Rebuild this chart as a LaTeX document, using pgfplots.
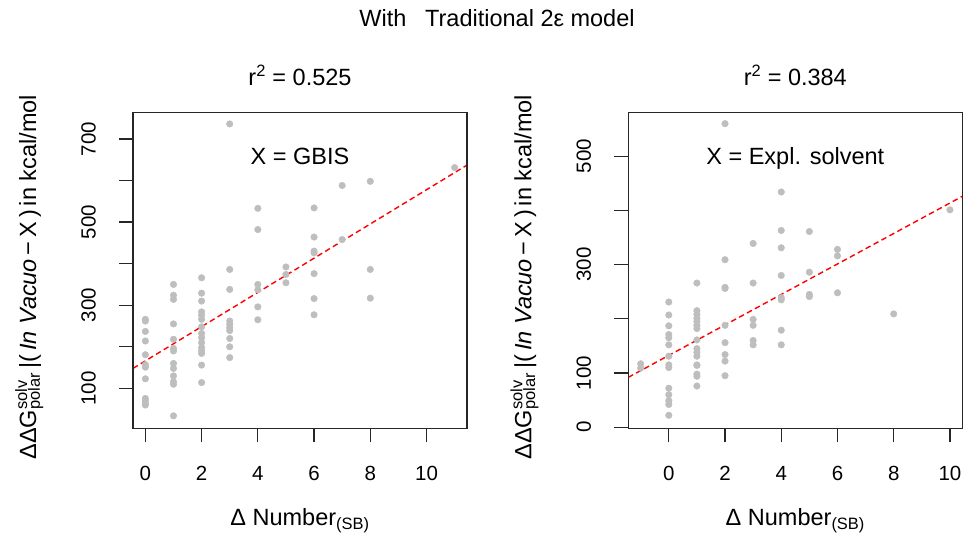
\documentclass[border=0pt]{standalone}
\usepackage{pgfplots}
\pgfplotsset{compat=1.18}
\usepackage{fontspec}
\setmainfont{Liberation Sans}
\definecolor{ptgray}{HTML}{BEBEBE}
\definecolor{fitred}{HTML}{FF0000}
\definecolor{frame}{HTML}{262626}
\newcommand{\ylab}{ΔΔG\rlap{\textsuperscript{solv}}\textsubscript{polar}\,|(\,\textit{In Vacuo}\,−\,X\,)\,in kcal/mol}
\pgfplotsset{
  myax/.style={
    scale only axis, width=334pt, height=316pt, anchor=south west,
    axis line style={line width=1.3pt, frame},
    every tick/.style={line width=1.3pt, frame},
    tick align=outside, major tick length=14pt,
    xtick pos=left, ytick pos=left,
    tick label style={font=\fontsize{20.5}{24}\selectfont, inner sep=0pt},
    label style={font=\fontsize{23.5}{28}\selectfont},
    title style={font=\fontsize{23.5}{28}\selectfont, at={(axis description cs:0.5,1.067)}, anchor=base},
    xticklabel style={anchor=north},
    yticklabel style={rotate=90, anchor=south},
    xticklabel shift=23.5pt,
    yticklabel shift=23pt,
    xlabel={Δ Number\textsubscript{(SB)}},
    xlabel style={at={(axis description cs:0.5,-0.309)}, anchor=base},
    ylabel={\ylab},
    ylabel style={at={(axis description cs:-0.29,0.478)}, anchor=base},
  },
  pts/.style={only marks, mark=*, mark size=3.3pt, mark options={fill=ptgray, draw=ptgray}},
  fit/.style={no marks, fitred, line width=1.4pt, dash pattern=on 5.5pt off 3.5pt},
}
\begin{document}
\begin{tikzpicture}[x=1pt,y=1pt]
\begin{axis}[myax, at={(133pt,108.7pt)},
  xmin=-0.44, xmax=11.44, ymin=4, ymax=764,
  xtick={0,2,...,10}, xticklabels={0,2,4,6,8,10},
  ytick={100,200,...,700}, yticklabels={100,,300,,500,,700},
  title={r\textsuperscript{2} = 0.525},
]
\addplot[pts] coordinates {
(0,266) (0,262) (0,237) (0,214) (0,181) (0,157) (0,151) (0,123) (0,76) (0,70) (0,64) (0,60)
(1,350) (1,324) (1,314) (1,255) (1,218) (1,196) (1,190) (1,160) (1,148) (1,130) (1,116) (1,110) (1,34)
(2,366) (2,329) (2,310) (2,284) (2,276) (2,266) (2,248) (2,232) (2,222) (2,210) (2,198) (2,190) (2,184) (2,156) (2,114)
(3,736) (3,386) (3,338) (3,262) (3,254) (3,246) (3,239) (3,220) (3,200) (3,174)
(4,533) (4,482) (4,350) (4,337) (4,296) (4,265)
(5,392) (5,374) (5,354)
(6,534) (6,464) (6,430) (6,426) (6,376) (6,316) (6,277)
(7,588) (7,458)
(8,598) (8,386) (8,317)
(11,631)
};
\addplot[fit] coordinates {(-0.44,148) (11.44,637)};
\draw[line width=1.3pt, frame] (rel axis cs:0,0) rectangle (rel axis cs:1,1);
\node[font=\fontsize{23.5}{28}\selectfont, anchor=base] at (rel axis cs:0.5,0.835) {X = GBIS};
\end{axis}
\begin{axis}[myax, at={(628.3pt,108.7pt)},
  xmin=-1.44, xmax=10.44, ymin=-2, ymax=581,
  xtick={0,2,...,10}, xticklabels={0,2,4,6,8,10},
  ytick={0,100,...,500}, yticklabels={0,100,,300,,500},
  title={r\textsuperscript{2} = 0.384},
]
\addplot[pts] coordinates {
(-1,117) (-1,109)
(0,231) (0,207) (0,187) (0,171) (0,165) (0,152) (0,131) (0,115) (0,110) (0,72) (0,60) (0,49) (0,42) (0,22)
(1,266) (1,215) (1,208) (1,201) (1,195) (1,188) (1,182) (1,161) (1,145) (1,138) (1,131) (1,115) (1,114) (1,98) (1,94) (1,76)
(2,560) (2,309) (2,258) (2,256) (2,188) (2,156) (2,134) (2,122) (2,95)
(3,339) (3,266) (3,199) (3,188) (3,160) (3,152)
(4,434) (4,363) (4,331) (4,280) (4,239) (4,235) (4,179) (4,152)
(5,361) (5,286) (5,245) (5,241)
(6,328) (6,316) (6,248)
(8,209)
(10,401)
};
\addplot[fit] coordinates {(-1.44,92) (10.44,426)};
\draw[line width=1.3pt, frame] (rel axis cs:0,0) rectangle (rel axis cs:1,1);
\node[font=\fontsize{23.5}{28}\selectfont, anchor=base] at (rel axis cs:0.5,0.835) {X = Expl. solvent};
\end{axis}
\node[font=\fontsize{23.5}{28}\selectfont, anchor=base] at (497pt,510.3pt) {With\hspace{0.8em}Traditional 2ε model};
\pgfresetboundingbox
\path[use as bounding box] (0,0) rectangle (965,537);
\end{tikzpicture}
\end{document}
